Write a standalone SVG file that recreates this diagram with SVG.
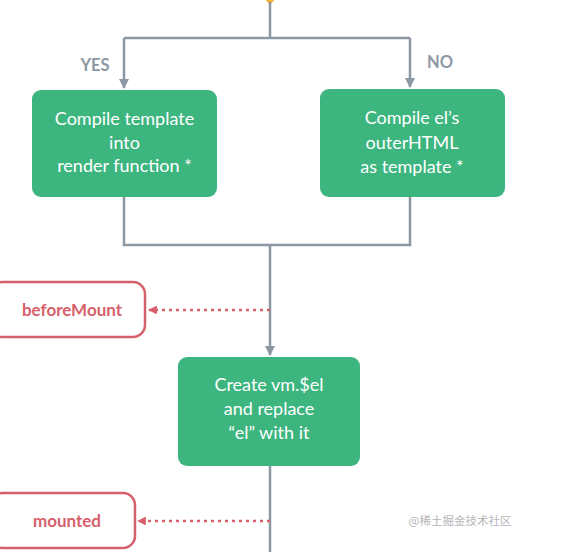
<svg xmlns="http://www.w3.org/2000/svg" width="562" height="552" viewBox="0 0 562 552">
<defs>
<style>
.box{fill:#3db57f;}
.bt{fill:#fff;font-family:Lato,"Open Sans",sans-serif;font-size:18px;text-anchor:middle;}
.ln{fill:none;stroke:#8c98a4;stroke-width:2.5;}
.dash{fill:none;stroke:#d6606b;stroke-width:2.5;stroke-dasharray:3 4;}
.hook{fill:#fff;stroke:#d6606b;stroke-width:2.5;}
.ht{fill:#d6606b;font-family:Lato,"Open Sans",sans-serif;font-size:17px;font-weight:bold;text-anchor:middle;}
.lab{fill:#8c98a4;font-family:Lato,"Open Sans",sans-serif;font-size:16.5px;font-weight:bold;text-anchor:middle;}
</style>
<marker id="ag" viewBox="0 0 10 10" refX="9" refY="5" markerWidth="4" markerHeight="4" orient="auto" markerUnits="strokeWidth"><path d="M0,0 L10,5 L0,10 z" fill="#8c98a4"/></marker>
<marker id="ar" viewBox="0 0 10 10" refX="9" refY="5" markerWidth="3.5" markerHeight="3.5" orient="auto" markerUnits="strokeWidth"><path d="M0,0 L10,5 L0,10 z" fill="#d6606b"/></marker>
</defs>
<rect width="562" height="552" fill="#fff"/>
<g id="decision"><polygon points="259,-8 270,5 281,-8" fill="#f7b234"/></g>
<g id="connectors">
<path class="ln" d="M270,2 V38 M124,38 H410"/>
<path class="ln" d="M124,38 V88" marker-end="url(#ag)"/>
<path class="ln" d="M410,38 V87" marker-end="url(#ag)"/>
<path class="ln" d="M124,197 V245 H410 V197 M270,245 V300"/>
<path class="ln" d="M270,300 V355" marker-end="url(#ag)"/>
<path class="ln" d="M270,466 V552"/>
<path class="dash" d="M270,310 H149" marker-end="url(#ar)"/>
<path class="dash" d="M270,521 H138" marker-end="url(#ar)"/>
<text class="lab" x="95" y="71">YES</text>
<text class="lab" x="440" y="68">NO</text>
</g>
<g id="compile-template">
<rect class="box" x="32" y="90" width="185" height="107" rx="9"/>
<text class="bt" x="124.5" y="125">Compile template</text>
<text class="bt" x="124.5" y="149">into</text>
<text class="bt" x="124.5" y="172">render function *</text>
</g>
<g id="compile-el">
<rect class="box" x="320" y="89" width="185" height="108" rx="9"/>
<text class="bt" x="412" y="124">Compile el’s</text>
<text class="bt" x="412" y="149">outerHTML</text>
<text class="bt" x="412" y="173">as template *</text>
</g>
<g id="create-el">
<rect class="box" x="178" y="357" width="182" height="109" rx="9"/>
<text class="bt" x="269" y="391">Create vm.$el</text>
<text class="bt" x="269" y="415">and replace</text>
<text class="bt" x="269" y="439">“el” with it</text>
</g>
<g id="beforeMount">
<rect class="hook" x="-10" y="282" width="155" height="55" rx="12"/>
<text class="ht" x="72" y="316">beforeMount</text>
</g>
<g id="mounted">
<rect class="hook" x="-10" y="493" width="145" height="55" rx="12"/>
<text class="ht" x="67" y="527">mounted</text>
</g>
<text x="460" y="525" fill="#b3b6ba" font-family="'Noto Sans CJK SC',sans-serif" font-size="11.5" text-anchor="middle">@稀土掘金技术社区</text>
</svg>
